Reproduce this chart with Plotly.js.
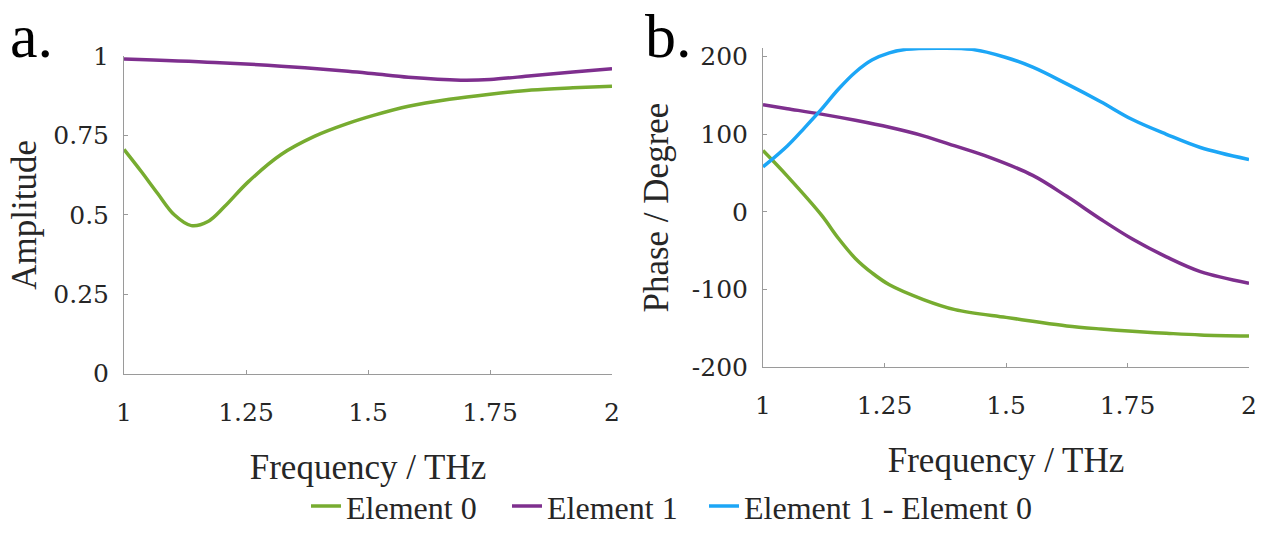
<!DOCTYPE html>
<html>
<head>
<meta charset="utf-8">
<script src="https://cdn.plot.ly/plotly-3.0.1.min.js"></script>
<style>html,body{margin:0;padding:0;background:#fff;} #chart{width:1286px;height:534px;}</style>
</head>
<body>
<div id="chart"></div>
<script>
// ---- data ----
const seriesNames = ["Element 0", "Element 1", "Element 1 - Element 0"];

// panel a: amplitude
const ampFreq0 = [1, 1.035, 1.069, 1.103, 1.138, 1.172, 1.206, 1.254, 1.322, 1.39, 1.459, 1.513, 1.583, 1.667, 1.75, 1.835, 1.92, 2];
const ampElem0 = [0.706, 0.637, 0.567, 0.5, 0.466, 0.479, 0.526, 0.603, 0.69, 0.747, 0.788, 0.814, 0.842, 0.864, 0.88, 0.893, 0.9, 0.905];
const ampFreq1 = [1, 1.186, 1.322, 1.459, 1.513, 1.583, 1.69, 1.75, 1.835, 1.92, 2];
const ampElem1 = [0.991, 0.98, 0.968, 0.952, 0.944, 0.933, 0.924, 0.926, 0.938, 0.95, 0.96];

// panel b: phase (degree)
const phFreq0 = [1, 1.05, 1.12, 1.155, 1.19, 1.225, 1.26, 1.33, 1.395, 1.5, 1.555, 1.625, 1.695, 1.76, 1.83, 1.9, 2];
const phElem0 = [79, 46, -4, -34, -60, -79, -94, -113, -126, -136, -141, -147, -151, -154, -156.5, -158.6, -160];
const phFreq1 = [1, 1.05, 1.12, 1.19, 1.26, 1.33, 1.395, 1.465, 1.555, 1.625, 1.695, 1.76, 1.83, 1.9, 2];
const phElem1 = [138, 133, 126, 118, 109, 98, 85, 70.5, 47, 20, -9.5, -35, -58, -77, -92];
const phFreqD = [1, 1.05, 1.085, 1.12, 1.155, 1.19, 1.225, 1.26, 1.295, 1.36, 1.43, 1.5, 1.555, 1.625, 1.695, 1.76, 1.83, 1.9, 2];
const phDiff  = [58, 85, 108, 132, 158, 180, 196, 205, 209.5, 211, 209.5, 199, 186.5, 165, 142, 119, 100, 83, 67.5];

// tick labels
const freqTickVals = [1, 1.25, 1.5, 1.75, 2];
const freqTickText = ["1", "1.25", "1.5", "1.75", "2"];
const ampTickVals = [0, 0.25, 0.5, 0.75, 1];
const ampTickText = ["0", "0.25", "0.5", "0.75", "1"];
const phTickVals = [-200, -100, 0, 100, 200];
const phTickText = ["-200", "-100", "0", "100", "200"];

// ---- styling ----
const colors = ["#77AC30", "#7E2F8E", "#1CA6F6"];
const FONT = "'Liberation Serif', serif";
const TICKFONT = "'DejaVu Serif', serif";
const TXT = "#262626";
const W = 1286, H = 534;
const px = v => v / W;
const py = v => 1 - v / H;

const lineW = 3.5;
const sm = 1;
const traces = [
  {x: ampFreq0, y: ampElem0, name: seriesNames[0], xaxis: "x", yaxis: "y", mode: "lines",
   line: {color: colors[0], width: lineW, shape: "spline", smoothing: sm}, showlegend: false},
  {x: ampFreq1, y: ampElem1, name: seriesNames[1], xaxis: "x", yaxis: "y", mode: "lines",
   line: {color: colors[1], width: lineW, shape: "spline", smoothing: sm}, showlegend: false},
  {x: phFreq0, y: phElem0, name: seriesNames[0], xaxis: "x2", yaxis: "y2", mode: "lines",
   line: {color: colors[0], width: lineW, shape: "spline", smoothing: sm}, legend: "legend"},
  {x: phFreq1, y: phElem1, name: seriesNames[1], xaxis: "x2", yaxis: "y2", mode: "lines",
   line: {color: colors[1], width: lineW, shape: "spline", smoothing: sm}, legend: "legend2"},
  {x: phFreqD, y: phDiff, name: seriesNames[2], xaxis: "x2", yaxis: "y2", mode: "lines",
   line: {color: colors[2], width: lineW, shape: "spline", smoothing: sm}, legend: "legend3"}
];

const axBase = {
  showgrid: false, zeroline: false, showline: true, linecolor: "#9a9a9a", linewidth: 1,
  ticks: "inside", ticklen: 4, tickcolor: "#9a9a9a", tickwidth: 1,
  tickfont: {family: TICKFONT, size: 25, color: TXT}, tickmode: "array", fixedrange: true
};
const titleFont = {family: FONT, size: 35, color: TXT};
const legBase = {orientation: "h", xanchor: "left", y: py(515), yanchor: "middle",
                 font: {family: FONT, size: 32, color: TXT}, itemwidth: 30, bgcolor: "rgba(0,0,0,0)"};

const layout = {
  width: W, height: H,
  margin: {l: 0, r: 0, t: 0, b: 0},
  paper_bgcolor: "#ffffff", plot_bgcolor: "#ffffff",
  font: {family: FONT, color: TXT},
  showlegend: true,
  legend: Object.assign({}, legBase, {x: px(306)}),
  legend2: Object.assign({}, legBase, {x: px(507)}),
  legend3: Object.assign({}, legBase, {x: px(704)}),
  xaxis: Object.assign({}, axBase, {domain: [px(124), px(612)], range: [1, 2], anchor: "y",
    tickvals: freqTickVals, ticktext: freqTickText, ticklabelstandoff: 16,
    title: {text: "Frequency / THz", font: titleFont, standoff: 28}}),
  yaxis: Object.assign({}, axBase, {domain: [py(380), py(57)], range: [0, 1], anchor: "x",
    tickvals: ampTickVals, ticktext: ampTickText, ticklabelstandoff: 9,
    title: {text: "Amplitude", font: titleFont, standoff: 6}}),
  xaxis2: Object.assign({}, axBase, {domain: [px(763), px(1249)], range: [1, 2], anchor: "y2",
    tickvals: freqTickVals, ticktext: freqTickText, ticklabelstandoff: 16,
    title: {text: "Frequency / THz", font: titleFont, standoff: 28}}),
  yaxis2: Object.assign({}, axBase, {domain: [py(373.3), py(49)], range: [-200, 211], anchor: "x2",
    tickvals: phTickVals, ticktext: phTickText, ticklabelstandoff: 9,
    title: {text: "Phase / Degree", font: titleFont, standoff: 12}}),
  annotations: [
    {text: "a.", xref: "paper", yref: "paper", x: px(8), y: 1, xanchor: "left", yanchor: "top",
     showarrow: false, font: {family: FONT, size: 62, color: "#000"}},
    {text: "b.", xref: "paper", yref: "paper", x: px(643), y: 1, xanchor: "left", yanchor: "top",
     showarrow: false, font: {family: FONT, size: 62, color: "#000"}}
  ]
};

Plotly.newPlot("chart", traces, layout, {staticPlot: true, displayModeBar: false});
</script>
</body>
</html>
